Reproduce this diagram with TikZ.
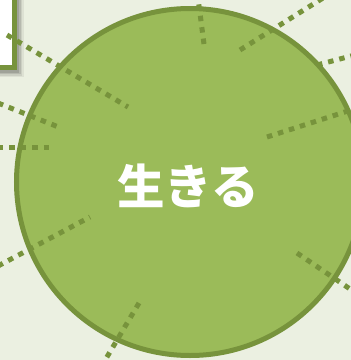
\documentclass[tikz,border=0pt]{standalone}
\usepackage{fontspec}
\newfontfamily\cjk{Noto Sans CJK JP}
\usetikzlibrary{positioning}

\definecolor{bgpale}{HTML}{EBF0E1}
\definecolor{leafgreen}{HTML}{9BBB59}
\definecolor{olivedark}{HTML}{77933C}

\begin{document}
\begin{tikzpicture}
	[x=1pt,y=-1pt,
	 ray/.style={draw=olivedark, line width=5pt, dash pattern=on 5.5pt off 6pt},
	 life/.style={circle, draw=olivedark, line width=5pt, fill=leafgreen, minimum size=347pt, inner sep=0pt}]
	\fill[bgpale] (0,0) rectangle (351,360);
	\useasboundingbox (0,0) rectangle (351,360);

	% box in the corner, with its shadow
	\foreach \s/\o in {7/0.06,5.5/0.08,4/0.1,2.5/0.12}
		\fill[black, opacity=\o] (-40,-40) rectangle (17+\s,70+\s);
	\node (box) [draw=olivedark, fill=white, line width=5pt, minimum width=70pt, minimum height=120pt, inner sep=0pt] at (-20.5,7.5) {};

	\node (life) [life] at (190,182) {};

	% dotted rays
	\coordinate (a1) at (204,44); \coordinate (a2) at (198,-2);
	\coordinate (b1) at (240,50); \coordinate (b2) at (323,-2);
	\coordinate (c1) at (317,65); \coordinate (c2) at (353,55.5);
	\coordinate (d1) at (267,137); \coordinate (d2) at (351,110);
	\coordinate (e1) at (7,35); \coordinate (e2) at (128,107);
	\coordinate (f1) at (-2,103); \coordinate (f2) at (61,128);
	\coordinate (g1) at (-2,147); \coordinate (g2) at (53,147);
	\coordinate (h1) at (-2,266); \coordinate (h2) at (90,217);
	\coordinate (i1) at (139,303); \coordinate (i2) at (104,362);
	\coordinate (j1) at (297,253); \coordinate (j2) at (353,291);

	\draw[ray] (a1) -- (a2);
	\draw[ray] (b1) -- (b2);
	\draw[ray] (c1) -- (c2);
	\draw[ray] (d1) -- (d2);
	\draw[ray] (e1) -- (e2);
	\draw[ray] (f1) -- (f2);
	\draw[ray] (g1) -- (g2);
	\draw[ray] (h1) -- (h2);
	\draw[ray] (i1) -- (i2);
	\draw[ray] (j1) -- (j2);

	\node (word) at (188,186) {\cjk\bfseries\fontsize{47.5}{52}\selectfont\color{white}生きる};
\end{tikzpicture}
\end{document}
